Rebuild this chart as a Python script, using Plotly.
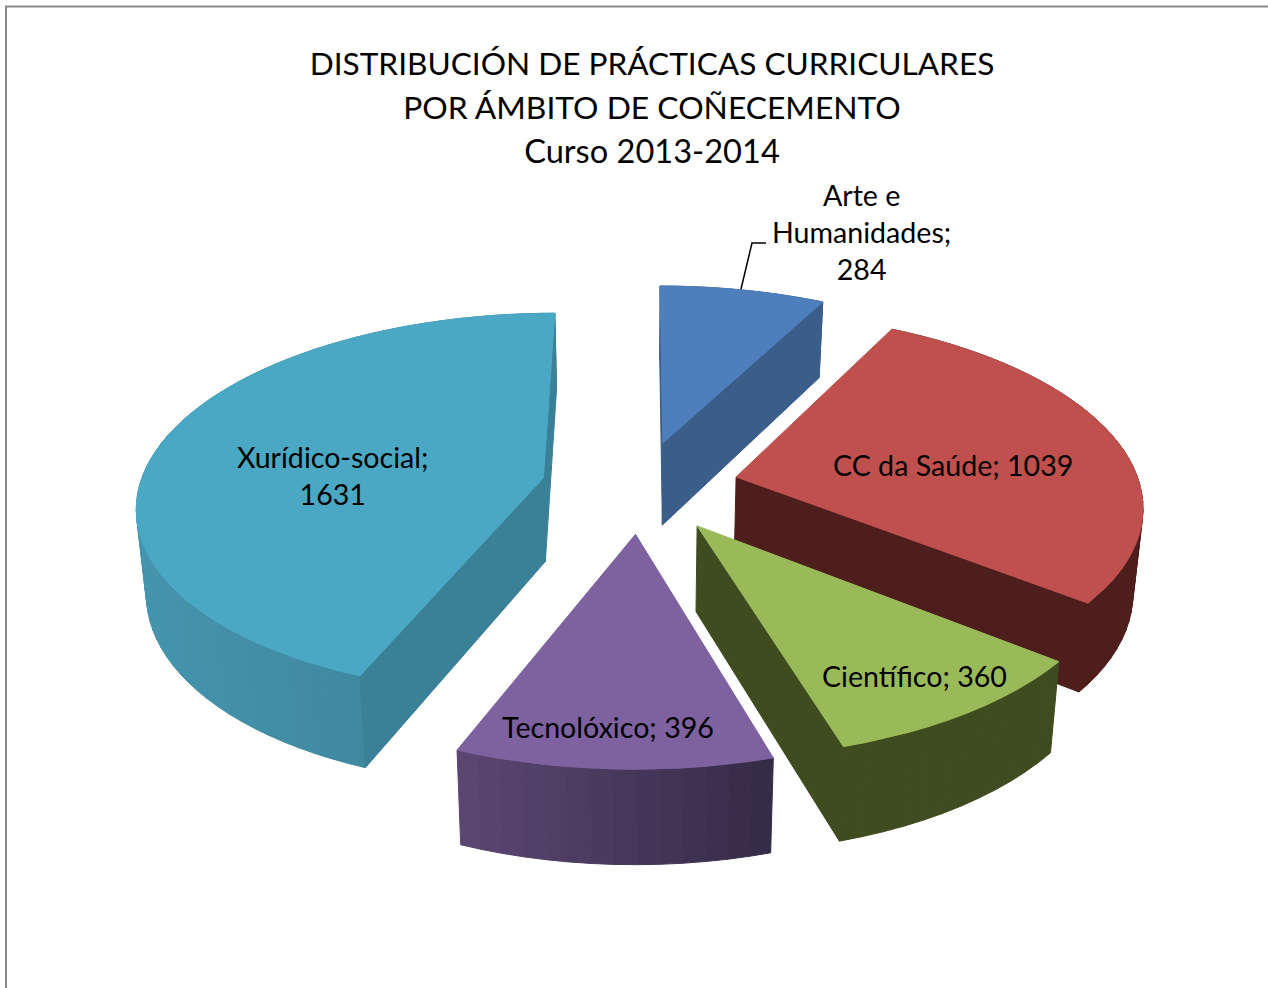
import numpy as np
import plotly.graph_objects as go

# ---- data ----
categories = ["Arte e Humanidades", "CC da Saúde", "Científico", "Tecnolóxico", "Xurídico-social"]
values = [284, 1039, 360, 396, 1631]
title_lines = ["DISTRIBUCIÓN DE PRÁCTICAS CURRICULARES", "POR ÁMBITO DE COÑECEMENTO", "Curso 2013-2014"]
title_sizes = [31.6, 31.8, 32.6]

# ---- styling ----
top_colors = ["#4e7fbc", "#bf504e", "#9aba59", "#7e62a0", "#4aa8c4"]
cut_colors = ["#3a5e89", "#4e1e1c", "#3f4c20", "#4a3a60", "#3a8096"]
rim_from = ["#3a5e89", "#4e1e1c", "#3f4c20", "#5c4672", "#4594ad"]
rim_to = ["#3a5e89", "#4e1e1c", "#3f4c20", "#342b47", "#3a7f96"]
draw_order = [0, 1, 4, 2, 3]
FONT = "Lato"

# ---- projection of the exploded 3-D pie ----
CX, CY, A, B, P, H, Q = 640.0, 486.5, 404.0, 189.0, 0.135, 84.0, 0.096
EXPLODE, BASE_SHRINK = 0.245, 0.02


def project(x, y, z):
    s = 1.0 / (1.0 + P * y)
    return CX + A * x * s * (1 - BASE_SHRINK * z), CY - B * y * s + H * z / (1.0 + Q * y)


def hex_mix(c1, c2, t):
    a = [int(c1[i:i + 2], 16) for i in (1, 3, 5)]
    b = [int(c2[i:i + 2], 16) for i in (1, 3, 5)]
    return "#%02x%02x%02x" % tuple(round(p + (q - p) * t) for p, q in zip(a, b))


def poly(us, vs, color):
    us, vs = list(us), list(vs)
    return go.Scatter(x=us + us[:1], y=vs + vs[:1], mode="lines", fill="toself", fillcolor=color,
                      line=dict(color=color, width=1), hoverinfo="skip", showlegend=False)


fracs = np.array(values, dtype=float) / sum(values)
ends = np.cumsum(fracs) * 2 * np.pi
starts = ends - fracs * 2 * np.pi

fig = go.Figure()
for i in draw_order:
    t0, t1 = starts[i], ends[i]
    mid = (t0 + t1) / 2
    ox, oy = EXPLODE * np.sin(mid), EXPLODE * np.cos(mid)
    th = np.linspace(t0, t1, max(8, int((t1 - t0) / np.radians(2.5))))
    wx, wy = ox + np.sin(th), oy + np.cos(th)

    # rim, back to front
    order = sorted(range(len(th) - 1), key=lambda k: -wy[k])
    ua, _ = project(wx, wy, 0)
    for k in order:
        idx = [k, k + 1]
        ut, vt = project(wx[idx], wy[idx], 0)
        ub, vb = project(wx[idx], wy[idx], 1)
        # light falls from the left: shade by position along the screen
        tt = (ut.mean() - ua.min()) / max(ua.max() - ua.min(), 1)
        fig.add_trace(poly(list(ut) + list(ub[::-1]), list(vt) + list(vb[::-1]),
                           hex_mix(rim_from[i], rim_to[i], tt)))

    # straight cut faces that look towards the viewer
    for ang, is_end in ((t0, False), (t1, True)):
        ex, ey = ox + np.sin(ang), oy + np.cos(ang)
        u0, v0 = project(ox, oy, 0)
        u1, v1 = project(ex, ey, 0)
        if (u1 - u0 > 0) == is_end:
            u2, v2 = project(ex, ey, 1)
            u3, v3 = project(ox, oy, 1)
            fig.add_trace(poly([u0, u1, u2, u3], [v0, v1, v2, v3], cut_colors[i]))

    # top
    ua2, va2 = project(np.r_[ox, wx], np.r_[oy, wy], 0)
    fig.add_trace(poly(ua2, va2, top_colors[i]))

# ---- leader line of the one outside label ----
fig.add_trace(go.Scatter(x=[741, 752, 766], y=[289, 243, 243], mode="lines",
                         line=dict(color="#000000", width=1.5), hoverinfo="skip", showlegend=False))

LABEL_SIZE = 28.6


def label(text, x, y):
    return dict(text=text, x=x, y=y, xref="x", yref="y", showarrow=False, align="center",
                font=dict(family=FONT, size=LABEL_SIZE, color="#000000"),
                xanchor="center", yanchor="middle")


annotations = [
    label(f"{categories[0].replace(' e ', ' e<br>')};<br>{values[0]}", 861, 232),
    label(f"{categories[1]}; {values[1]}", 953, 465),
    label(f"{categories[2]}; {values[2]}", 914, 676),
    label(f"{categories[3]}; {values[3]}", 608, 727),
    label(f"{categories[4]};<br>{values[4]}", 333, 475),
]

title_text = "<br>".join(f'<span style="font-size:{s}px">{t}</span>' for t, s in zip(title_lines, title_sizes))

fig.update_layout(
    width=1268, height=988, margin=dict(l=0, r=0, t=0, b=0),
    paper_bgcolor="#ffffff", plot_bgcolor="#ffffff",
    title=dict(text=title_text, x=652 / 1268, xanchor="center", y=1 - 75 / 988, yanchor="top",
               font=dict(family=FONT, size=34, color="#000000")),
    xaxis=dict(range=[0, 1268], visible=False, fixedrange=True),
    yaxis=dict(range=[988, 0], visible=False, fixedrange=True),
    annotations=annotations,
    shapes=[dict(type="path", path="M 6 988 L 6 6.5 L 1268 6.5", xref="x", yref="y",
                 line=dict(color="#8c8c8c", width=2))],
)
fig.write_html("out.html", config=dict(displayModeBar=False),
               post_script="document.body.style.margin='0';document.documentElement.style.overflow='hidden';")
